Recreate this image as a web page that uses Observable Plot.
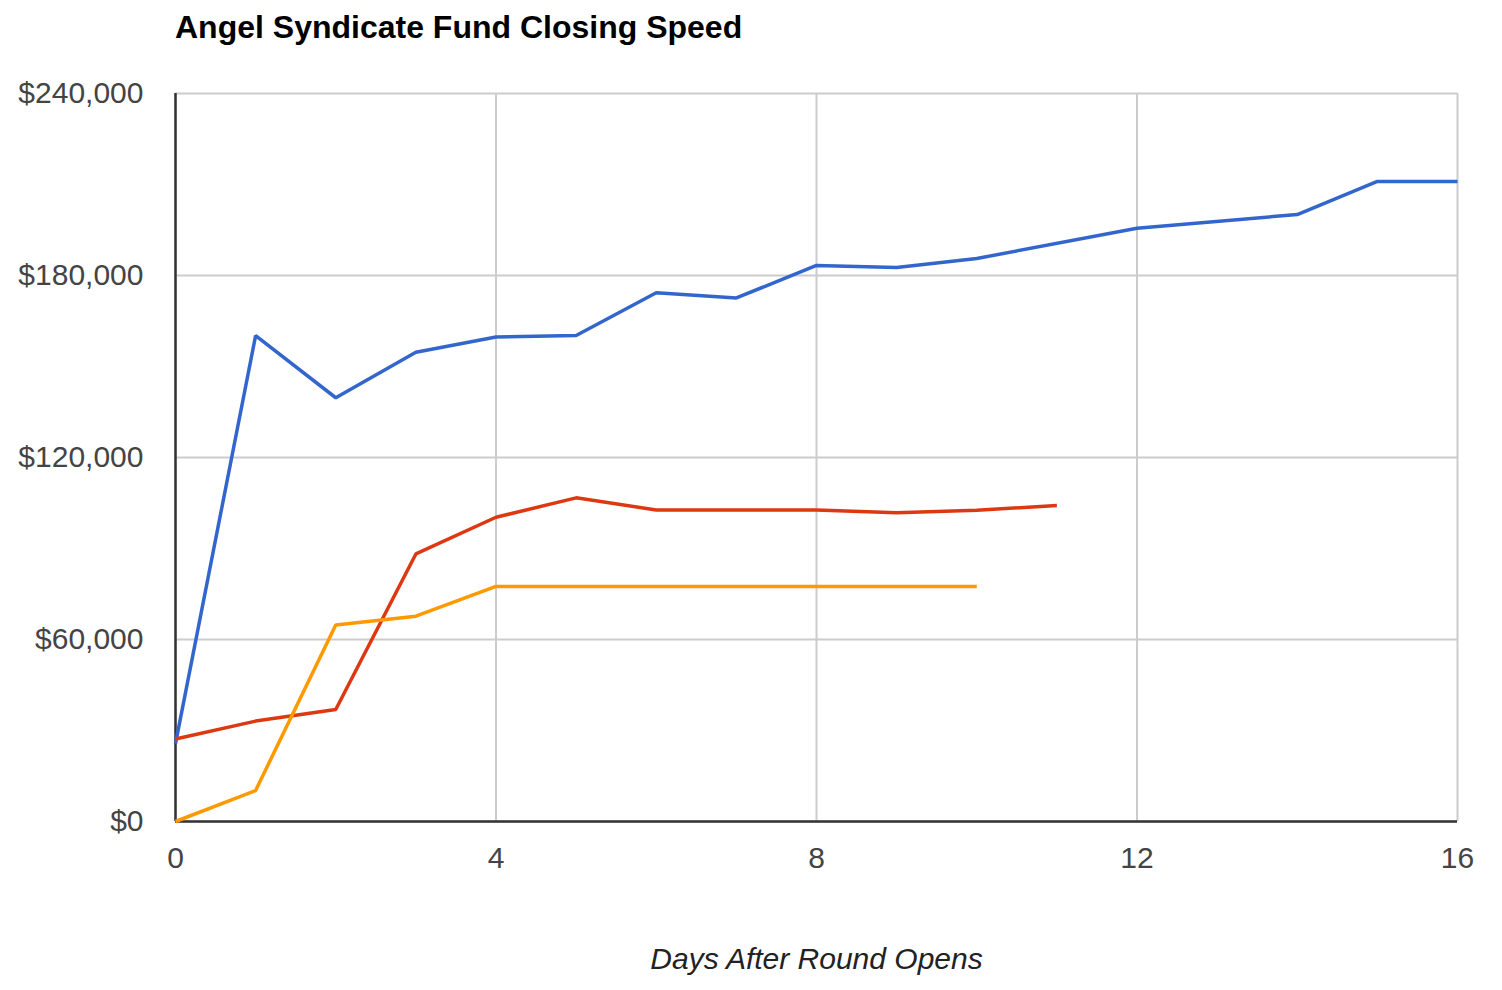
<!DOCTYPE html>
<html>
<head>
<meta charset="utf-8">
<script src="https://cdn.jsdelivr.net/npm/d3@7"></script>
<script src="https://cdn.jsdelivr.net/npm/@observablehq/plot@0.6"></script>
<style>
  body { margin: 0; background: #fff; }
  #wrap { position: relative; width: 1502px; height: 990px; }
  #title { position: absolute; left: 175px; top: 11px; font: bold 32px "Liberation Sans", Arial, sans-serif; line-height: 32px; color: #000; white-space: nowrap; }
  #chart { position: absolute; left: 0; top: 0; }
</style>
</head>
<body>
<div id="wrap">
  <div id="chart"></div>
  <div id="title">Angel Syndicate Fund Closing Speed</div>
</div>
<script>
// ---- data ----
const blueDays   = [0, 1, 2, 3, 4, 5, 6, 7, 8, 9, 10, 12, 14, 15, 16];
const blueValues = [25700, 160200, 139700, 154700, 159700, 160200, 174300, 172600, 183300, 182600, 185600, 195600, 200100, 211000, 211000];

const redDays   = [0, 1, 2, 3, 4, 5, 6, 7, 8, 9, 10, 11];
const redValues = [27200, 33100, 36900, 88200, 100300, 106700, 102700, 102700, 102700, 101800, 102600, 104200];

const orangeDays   = [0, 1, 2, 3, 4, 5, 6, 7, 8, 9, 10];
const orangeValues = [0, 10200, 64800, 67700, 77500, 77500, 77500, 77500, 77500, 77500, 77500];

const seriesNames  = ["Series 1", "Series 2", "Series 3"];
const seriesColors = ["#3366cc", "#dc3912", "#ff9900"];

const xTicks = [0, 4, 8, 12, 16];
const yTicks = [0, 60000, 120000, 180000, 240000];
const xLabel = "Days After Round Opens";

// ---- build tidy table ----
const rows = [];
[[blueDays, blueValues], [redDays, redValues], [orangeDays, orangeValues]].forEach(([days, vals], i) => {
  days.forEach((d, j) => rows.push({ series: seriesNames[i], day: d, value: vals[j] }));
});

const fmt = d3.format(",");

const chart = Plot.plot({
  width: 1502,
  height: 990,
  marginLeft: 175,
  marginRight: 45,
  marginTop: 93,
  marginBottom: 169,
  style: { fontFamily: "'Liberation Sans', Arial, sans-serif", fontSize: "30px", background: "#fff" },
  x: { domain: [0, 16] },
  y: { domain: [0, 240000] },
  color: { domain: seriesNames, range: seriesColors },
  marks: [
    Plot.gridY(yTicks, { stroke: "#cccccc", strokeOpacity: 1, strokeWidth: 2 }),
    Plot.gridX(xTicks, { stroke: "#cccccc", strokeOpacity: 1, strokeWidth: 2 }),
    Plot.ruleY([0], { stroke: "#333333", strokeWidth: 2.5 }),
    Plot.ruleX([0], { stroke: "#333333", strokeWidth: 2.5 }),
    Plot.axisY(yTicks, { tickSize: 0, tickPadding: 32, tickFormat: d => "$" + fmt(d), label: null, fill: "#444", fontSize: 30 }),
    Plot.axisX(xTicks, { tickSize: 0, tickPadding: 25, label: null, fill: "#444", fontSize: 30 }),
    Plot.line(rows, { x: "day", y: "value", z: "series", stroke: "series", strokeWidth: 3.5, strokeLinejoin: "miter", strokeLinecap: "butt" }),
    Plot.text([xLabel], { frameAnchor: "bottom", dy: 138, fontStyle: "italic", fontSize: 30, fill: "#222", lineAnchor: "middle" })
  ]
});
document.getElementById("chart").appendChild(chart);
</script>
</body>
</html>
